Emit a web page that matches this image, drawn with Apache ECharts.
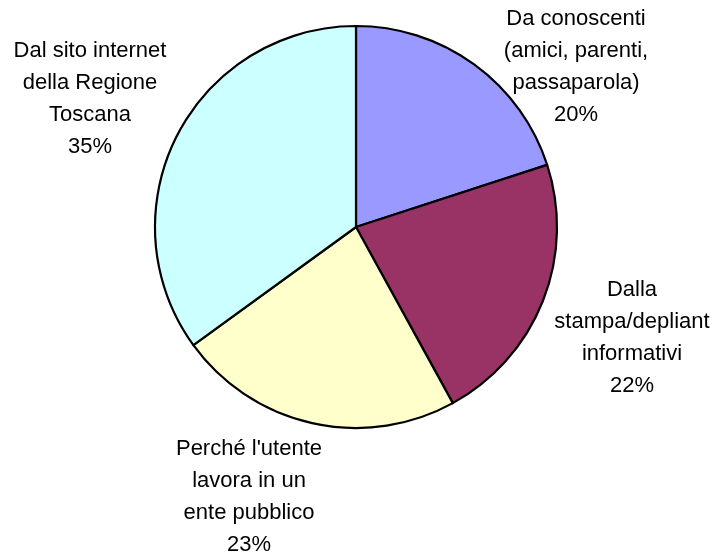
<!DOCTYPE html>
<html>
<head>
<meta charset="utf-8">
<script src="https://cdn.jsdelivr.net/npm/echarts@6/dist/echarts.min.js"></script>
<style>
  html, body { margin: 0; padding: 0; background: #fff; }
  #chart { width: 714px; height: 555px; }
</style>
</head>
<body>
<div id="chart"></div>
<script>
// Slices in clockwise order starting from twelve o'clock
const categories = [
  'Da conoscenti\n(amici, parenti,\npassaparola)',
  'Dalla\nstampa/depliant\ninformativi',
  "Perché l'utente\nlavora in un\nente pubblico",
  'Dal sito internet\ndella Regione\nToscana'
];
const values = [20, 22, 23, 35];
const colors = ['#9999FF', '#993366', '#FFFFCC', '#CCFFFF'];

// Centre of each label block (px)
const labelSpots = [
  [576, 67],
  [632, 338],
  [249, 497],
  [90, 99]
];

const chart = echarts.init(document.getElementById('chart'), null, { renderer: 'canvas' });
chart.setOption({
  backgroundColor: '#ffffff',
  animation: false,
  series: [{
    type: 'pie',
    center: [356, 227],
    radius: 201,
    startAngle: 90,
    clockwise: true,
    avoidLabelOverlap: false,
    itemStyle: { borderColor: '#000', borderWidth: 2.2 },
    emphasis: { disabled: true },
    label: {
      show: true,
      position: 'outside',
      formatter: '{b}\n{c}%',
      fontFamily: 'Liberation Sans, Arial, sans-serif',
      fontSize: 22,
      lineHeight: 32,
      color: '#000',
      align: 'center'
    },
    labelLine: { show: false },
    labelLayout: function (p) {
      const s = labelSpots[p.dataIndex];
      return { x: s[0], y: s[1], align: 'center', verticalAlign: 'middle' };
    },
    data: categories.map((name, i) => ({
      name: name,
      value: values[i],
      itemStyle: { color: colors[i] }
    }))
  }]
});
</script>
</body>
</html>
